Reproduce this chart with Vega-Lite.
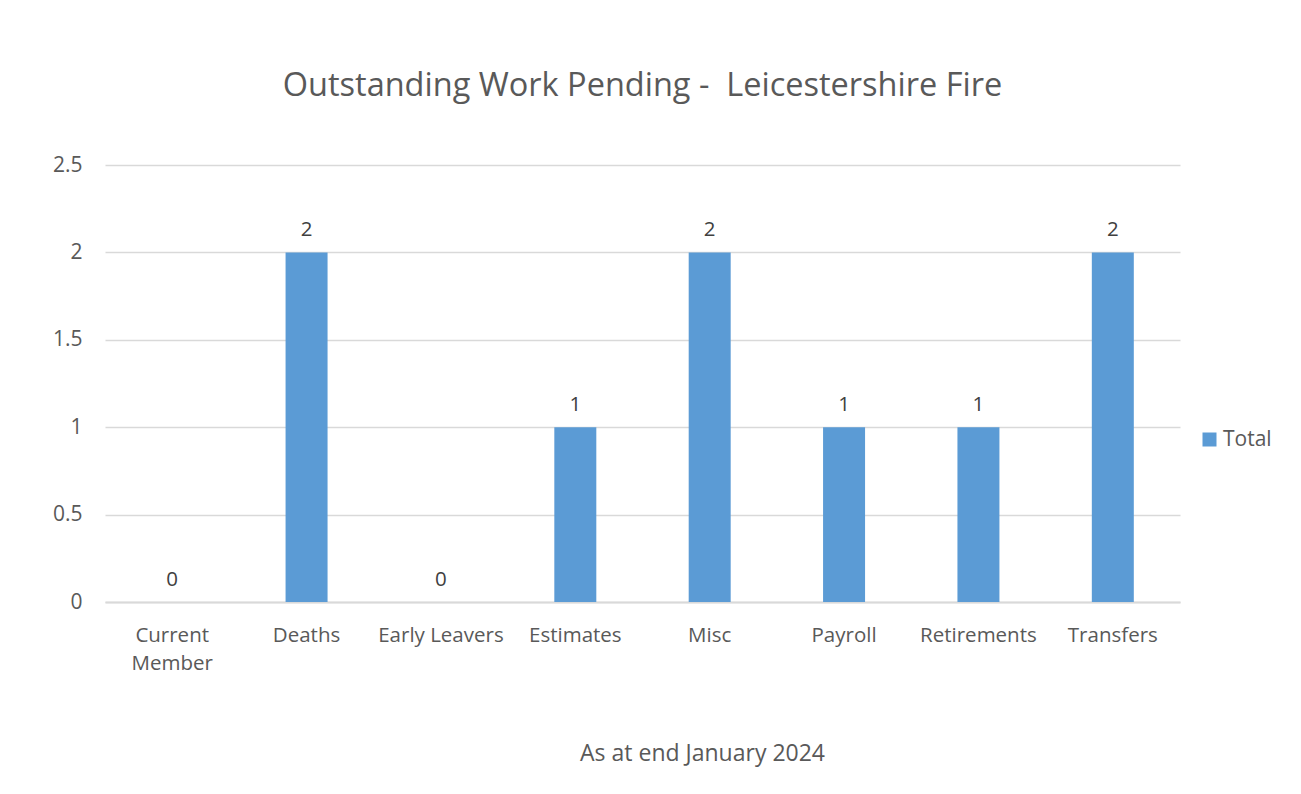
{
  "$schema": "https://vega.github.io/schema/vega-lite/v6.json",
  "autosize": {"type": "none"},
  "padding": {"left": 105, "top": 165, "right": 121, "bottom": 192},
  "width": 1075,
  "height": 437,
  "background": "white",
  "config": {
    "font": "Open Sans",
    "view": {"stroke": null},
    "text": {"font": "Open Sans"}
  },
  "title": {
    "text": "Outstanding Work Pending - \u00a0Leicestershire Fire",
    "fontSize": 32.5,
    "fontWeight": "normal",
    "color": "#595959",
    "anchor": "middle",
    "frame": "group",
    "offset": 52
  },
  "data": {
    "values": [
      {"category": "Current Member", "series": "Total", "value": 0},
      {"category": "Deaths", "series": "Total", "value": 2},
      {"category": "Early Leavers", "series": "Total", "value": 0},
      {"category": "Estimates", "series": "Total", "value": 1},
      {"category": "Misc", "series": "Total", "value": 2},
      {"category": "Payroll", "series": "Total", "value": 1},
      {"category": "Retirements", "series": "Total", "value": 1},
      {"category": "Transfers", "series": "Total", "value": 2}
    ]
  },
  "encoding": {
    "x": {
      "field": "category",
      "type": "nominal",
      "sort": null,
      "scale": {"paddingInner": 0.6875, "paddingOuter": 0.34375},
      "axis": {
        "title": "As at end January 2024",
        "titleFontSize": 23,
        "titleFontWeight": "normal",
        "titleColor": "#595959",
        "titleX": 597,
        "titleY": 158,
        "titleAnchor": "middle",
        "titleAlign": "center",
        "titleBaseline": "alphabetic",
        "labelAngle": 0,
        "labelFontSize": 20.5,
        "labelColor": "#595959",
        "labelPadding": 23,
        "labelLineHeight": 28,
        "labelExpr": "datum.label == 'Current Member' ? ['Current', 'Member'] : datum.label",
        "ticks": false,
        "domainColor": "#d9d9d9",
        "domainWidth": 2,
        "grid": false
      }
    },
    "y": {
      "field": "value",
      "type": "quantitative",
      "scale": {"domain": [0, 2.5], "nice": false},
      "axis": {
        "title": null,
        "values": [0, 0.5, 1, 1.5, 2, 2.5],
        "labelExpr": "datum.value == 0 ? '0' : datum.value == 1 ? '1' : datum.value == 2 ? '2' : format(datum.value, '.1f')",
        "labelFontSize": 21,
        "labelColor": "#595959",
        "labelPadding": 23,
        "ticks": false,
        "domain": false,
        "gridColor": "#d9d9d9",
        "gridWidth": 1.5
      }
    }
  },
  "layer": [
    {
      "mark": {"type": "bar", "color": "#5b9bd5"},
      "encoding": {
        "color": {
          "field": "series",
          "type": "nominal",
          "scale": {"range": ["#5b9bd5"]},
          "legend": {
            "title": null,
            "orient": "none",
            "legendX": 1094,
            "legendY": 264,
            "symbolType": "square",
            "symbolSize": 196,
            "symbolStrokeWidth": 0,
            "labelFontSize": 21,
            "labelColor": "#595959",
            "labelOffset": 3
          }
        }
      }
    },
    {
      "mark": {"type": "text", "baseline": "alphabetic", "dy": -16, "fontSize": 20.5, "color": "#404040"},
      "encoding": {"text": {"field": "value", "type": "quantitative"}}
    }
  ]
}
